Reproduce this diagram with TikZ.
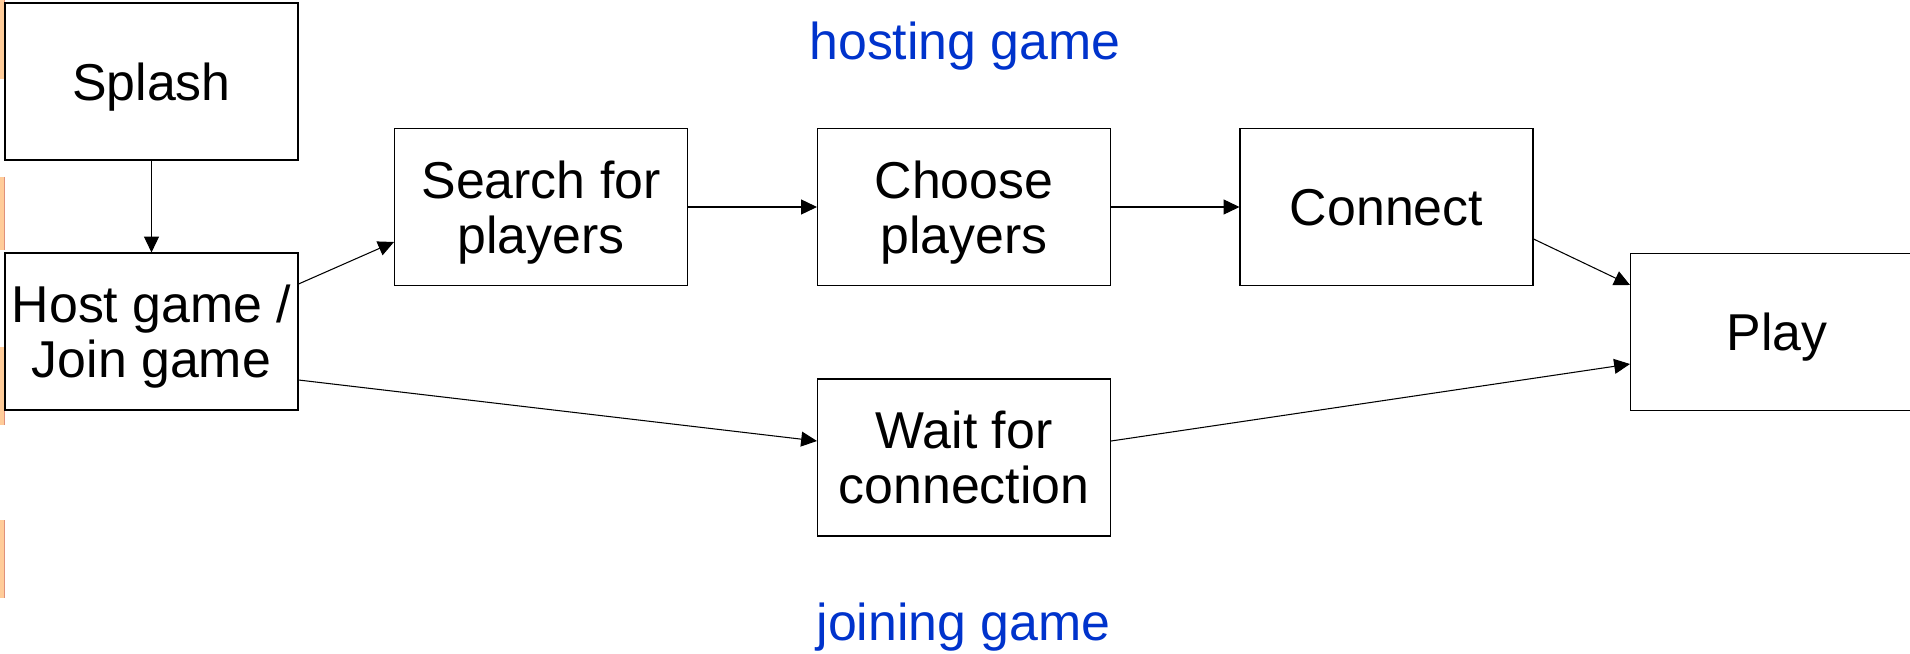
\documentclass[tikz,border=0pt]{standalone}
\usepackage{fontspec}
\setmainfont{Liberation Sans}
\usepackage{xcolor}
\usetikzlibrary{arrows.meta,positioning}
\definecolor{labelblue}{HTML}{0033CC}
\definecolor{slidepeach}{HTML}{FFCC99}
\definecolor{slideedge}{HTML}{E0907A}

\begin{document}
\begin{tikzpicture}[>={Triangle[length=9pt,width=8.5pt]},
  every node/.style={font=\fontsize{29.5}{31.3}\selectfont},
  stage/.style={draw, line width=0.6pt, align=center, text depth=0pt, minimum width=5.86cm, minimum height=3.14cm},
  flow/.style={->, line width=0.6pt}]
  \clip (0,0) rectangle (38.2,-13.08);
  \fill[white] (0,0) rectangle (38.2,-13.08);

  % bits of the slide behind, cut off at the left edge
  \foreach \top/\bot in {0/1.58, 3.54/5.0, 6.94/8.5, 10.4/11.96} {
    \fill[slidepeach] (0,-\top) rectangle (0.08,-\bot);
    \draw[slideedge, line width=0.4pt] (0.08,-\top) -- (0.08,-\bot);
  }

  \node[stage] (splash) at (3.03,-1.63) {Splash};
  \node[stage] (host) at (3.03,-6.63) {Host game /\\Join game};
  \node[stage] (search) at (10.82,-4.14) {Search for\\players};
  \node[stage] (choose) at (19.28,-4.14) {Choose\\players};
  \node[stage] (connect) at (27.73,-4.14) {Connect};
  \node[stage] (wait) at (19.28,-9.15) {Wait for\\connection};
  \node[stage] (play) at (35.54,-6.64) {Play};

  \node[labelblue, anchor=base] (hostlabel) at (19.30,-1.20) {hosting game};
  \node[labelblue, anchor=base] (joinlabel) at (19.27,-12.80) {joining game};

  \draw[flow] (splash) -- (host);
  \draw[flow] ([yshift=0.95cm]host.east) -- ([yshift=-0.7cm]search.west);
  \draw[flow] ([yshift=-0.97cm]host.east) -- ([yshift=0.33cm]wait.west);
  \draw[flow] (search) -- (choose);
  \draw[flow] (choose) -- (connect);
  \draw[flow] ([yshift=-0.64cm]connect.east) -- ([yshift=0.94cm]play.west);
  \draw[flow] ([yshift=0.33cm]wait.east) -- ([yshift=-0.64cm]play.west);
\end{tikzpicture}
\end{document}
